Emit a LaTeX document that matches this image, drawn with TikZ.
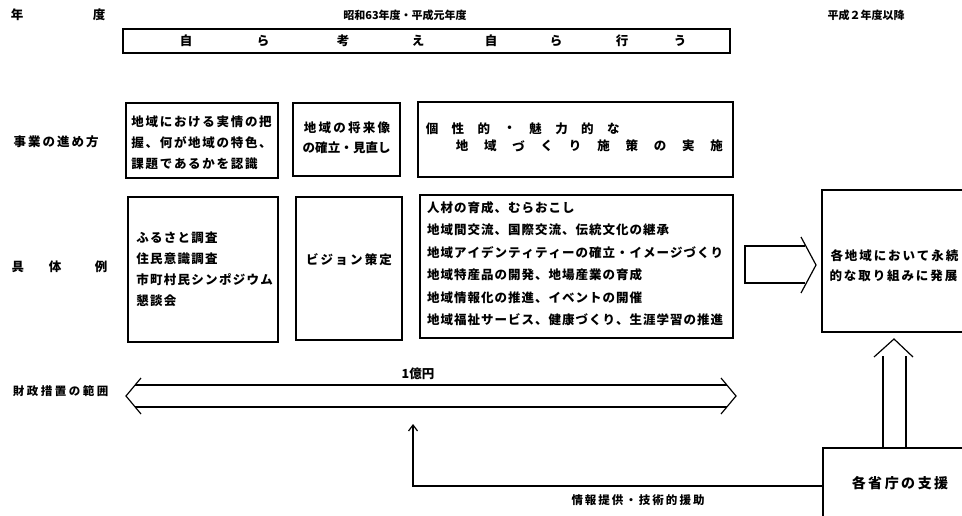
\documentclass[tikz,border=0pt]{standalone}
\usepackage{fontspec}
\setmainfont{Noto Sans CJK JP}
\usetikzlibrary{arrows.meta}
\ExplSyntaxOn
\NewDocumentCommand\spc{mm}{\tl_map_inline:nn{#2}{\makebox[#1][c]{##1}}}
\ExplSyntaxOff
\begin{document}
\begin{tikzpicture}[x=1pt,y=-1pt,line width=1.2pt,
  box/.style={draw,anchor=north west,inner sep=0pt,outer sep=0pt},
  txt/.style={inner sep=0pt,anchor=west,font=\fontsize{12.5}{13}\selectfont\bfseries},
  ctxt/.style={inner sep=0pt,anchor=center,font=\fontsize{12.5}{13}\selectfont\bfseries},
  hollow/.style={line width=1.2pt,line join=miter}]
\clip (0,0) rectangle (962,516);
\fill[white] (0,0) rectangle (962,516);
% headers
\node[ctxt] (h1) at (17,15) {年};
\node[ctxt] (h2) at (99,15) {度};
\node[ctxt,font=\fontsize{11}{11}\selectfont\bfseries] (h3) at (405,15) {昭和63年度・平成元年度};
\node[ctxt,font=\fontsize{11}{11}\selectfont\bfseries] (h4) at (866,15) {平成２年度以降};
% top box
\node[box,minimum width=607pt,minimum height=24pt] (top) at (123,29) {};
\foreach \c/\x in {自/186,ら/263,考/343,え/418,自/491,ら/556,行/622,う/680}
  \node[ctxt] at (\x,41) {\c};
% row labels
\node[txt] (l1) at (12,142) {\spc{14.5pt}{事業の進め方}};
\node[ctxt] (l2a) at (18,267) {具};
\node[ctxt] (l2b) at (55,267) {体};
\node[ctxt] (l2c) at (101,267) {例};
\node[txt,font=\fontsize{11.5}{12}\selectfont\bfseries] (l3) at (11,391) {\spc{14pt}{財政措置の範囲}};
% row 1 boxes
\node[box,minimum width=152pt,minimum height=75pt] (b1) at (126,103) {};
\node[txt] (b1t1) at (130,122) {\spc{14.2pt}{地域における実情の把}};
\node[txt] (b1t2) at (130,143) {\spc{14.2pt}{握、何が地域の特色、}};
\node[txt] (b1t3) at (130,164) {\spc{14.2pt}{課題であるかを認識}};
\node[box,minimum width=107pt,minimum height=73pt] (b2) at (293,103) {};
\node[txt] (b2t1) at (302,128) {\spc{14.8pt}{地域の将来像}};
\node[txt] (b2t2) at (302,148) {\spc{12.6pt}{の確立・見直し}};
\node[box,minimum width=315pt,minimum height=75pt] (b3) at (418,102) {};
\foreach \c [count=\i from 0] in {個,性,的,・,魅,力,的,な}
  \node[ctxt] at (432+25.9*\i,129) {\c};
\foreach \c [count=\i from 0] in {地,域,づ,く,り,施,策,の,実,施}
  \node[ctxt] at (462+28.3*\i,146) {\c};
% row 2 boxes
\node[box,minimum width=150pt,minimum height=145pt] (b4) at (128,197) {};
\node[txt] (b4t1) at (135,238) {\spc{13.8pt}{ふるさと調査}};
\node[txt] (b4t2) at (135,259) {\spc{13.8pt}{住民意識調査}};
\node[txt] (b4t3) at (135,280) {\spc{13.8pt}{市町村民シンポジウム}};
\node[txt] (b4t4) at (135,301) {\spc{13.8pt}{懇談会}};
\node[box,minimum width=106pt,minimum height=143pt] (b5) at (296,197) {};
\node[ctxt] (b5t) at (349,260) {\spc{14.7pt}{ビジョン策定}};
\node[box,minimum width=313pt,minimum height=143pt] (b6) at (420,195) {};
\node[txt] (b6t1) at (426,207.5) {\spc{13.5pt}{人材の育成、むらおこし}};
\node[txt] (b6t2) at (426,230.0) {\spc{13.5pt}{地域間交流、国際交流、伝統文化の継承}};
\node[txt] (b6t3) at (426,252.5) {\spc{13.5pt}{地域アイデンティティーの確立・イメージづくり}};
\node[txt] (b6t4) at (426,275.0) {\spc{13.5pt}{地域特産品の開発、地場産業の育成}};
\node[txt] (b6t5) at (426,297.5) {\spc{13.5pt}{地域情報化の推進、イベントの開催}};
\node[txt] (b6t6) at (426,320.0) {\spc{13.5pt}{地域福祉サービス、健康づくり、生涯学習の推進}};
% right boxes
\node[box,minimum width=160pt,minimum height=142pt] (rb) at (822,190) {};
\node[txt] (rbt1) at (829,256) {\spc{14.4pt}{各地域において永続}};
\node[txt] (rbt2) at (828,276) {\spc{14.4pt}{的な取り組みに発展}};
\node[box,minimum width=160pt,minimum height=80pt] (sb) at (823,448) {};
\node[ctxt,font=\fontsize{14}{14}\selectfont\bfseries] (sbt) at (900,483) {\spc{16.5pt}{各省庁の支援}};
% block arrow b6 -> rb
\coordinate (ba1) at (745,246);
\coordinate (ba2) at (745,283);
\draw[hollow] (805,246) -- (ba1) -- (ba2) -- (805,283);
\draw[hollow] (801,237) -- (816,265) -- (801,293);
% hollow up arrow sb -> rb
\coordinate (ua1) at (883,448);
\coordinate (ua2) at (906,448);
\draw[hollow] (ua1) -- (883,356);
\draw[hollow] (ua2) -- (906,356);
\draw[hollow] (874,357) -- (894,339) -- (913,357);
% double hollow arrow (financial range)
\coordinate (dl) at (126,396);
\coordinate (dr) at (736,396);
\draw[hollow] (135,385) -- (727,385);
\draw[hollow] (135,407) -- (727,407);
\draw[hollow] (141,378) -- (dl) -- (141,414);
\draw[hollow] (721,378) -- (dr) -- (721,414);
\node[ctxt] (oku) at (418,374) {1億円};
% support line
\coordinate (sup) at (413,424);
\draw[-{Straight Barb[length=6pt,width=9pt]}] (sb.west |- 0,486) -| (sup);
\node[ctxt,font=\fontsize{11.5}{12}\selectfont\bfseries] (info) at (638,500) {\spc{13.5pt}{情報提供・技術的援助}};
\end{tikzpicture}
\end{document}
